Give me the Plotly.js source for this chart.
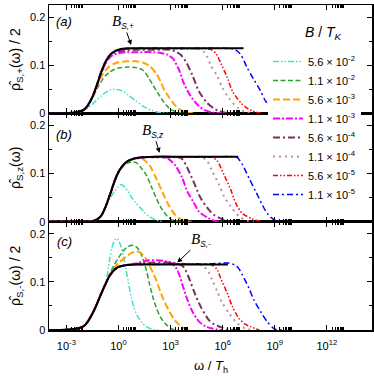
<!DOCTYPE html>
<html>
<head>
<meta charset="utf-8">
<script src="https://cdn.plot.ly/plotly-3.0.1.min.js"></script>
<style>
  html, body { margin: 0; padding: 0; background: #fff; }
  #chart { width: 374px; height: 376px; }
</style>
</head>
<body>
<div id="chart"></div>
<script>
'use strict';

/* global Plotly */

// B / T_K of the coloured curves, in legend order
const FIELDS = [
  '5.6 × 10<sup>-2</sup>', '1.1 × 10<sup>-2</sup>', '5.6 × 10<sup>-3</sup>', '1.1 × 10<sup>-3</sup>',
  '5.6 × 10<sup>-4</sup>', '1.1 × 10<sup>-4</sup>', '5.6 × 10<sup>-5</sup>', '1.1 × 10<sup>-5</sup>'
];
const COLORS = ['#40e0d0', '#2ca02c', '#ffa500', '#ff00ff', '#7b2d62', '#bc8f8f', '#ff0000', '#0000ff'];
const DASHES = [
  '6px,2px,1.5px,2px,1.5px,2px', '5px,2.5px', '7px,3px', '7px,2px,2px,2px',
  '7px,3px,2px,3px', '2px,4px', '5px,2px,1.5px,2px,1.5px,2px', '6px,3px,2px,3px'
];
const WIDTHS = [1.5, 1.5, 2, 2, 2, 2, 1.5, 1.5];

const DECADES = [-3, 0, 3, 6, 9, 12];

// points are [log10(omega / T_h), rho]
// panel (a): rho_{S,+} / 2
const plus_b = [[-4,0],[-3,0.0005],[-2.5,0.002],[-2,0.007],[-1.75,0.017],[-1.5,0.034],[-1.25,0.058],[-1,0.085],[-0.75,0.107],[-0.5,0.121],[-0.25,0.128],[0,0.132],[0.5,0.135],[1,0.135],[3,0.135],[5,0.135],[7.2,0.135]];
const plus_1 = [[-4,0],[-3,0.0005],[-2.5,0.002],[-2,0.006],[-1.75,0.012],[-1.5,0.019],[-1.25,0.028],[-1,0.036],[-0.75,0.043],[-0.5,0.048],[-0.2,0.050],[0.2,0.047],[0.6,0.037],[1,0.026],[1.5,0.013],[2,0.005],[2.5,0.001],[3,0]];
const plus_2 = [[-4,0],[-3,0.0005],[-2.5,0.002],[-2,0.007],[-1.75,0.016],[-1.5,0.031],[-1.25,0.050],[-1,0.066],[-0.75,0.078],[-0.5,0.086],[-0.25,0.091],[0,0.094],[0.5,0.096],[1,0.095],[1.4,0.090],[1.75,0.073],[2,0.058],[2.25,0.043],[2.5,0.029],[2.75,0.017],[3,0.008],[3.5,0.002],[4,0]];
const plus_3 = [[-4,0],[-3,0.0005],[-2.5,0.002],[-2,0.007],[-1.75,0.017],[-1.5,0.033],[-1.25,0.054],[-1,0.075],[-0.75,0.089],[-0.5,0.098],[-0.25,0.103],[0,0.106],[0.5,0.108],[1,0.108],[1.5,0.104],[1.8,0.098],[2.17,0.083],[2.4,0.068],[2.65,0.048],[2.9,0.034],[3.2,0.019],[3.5,0.009],[3.9,0.002],[4.3,0]];
const plus_4 = [[-4,0],[-3,0.0005],[-2.5,0.002],[-2,0.007],[-1.75,0.017],[-1.5,0.034],[-1.25,0.057],[-1,0.083],[-0.75,0.103],[-0.5,0.116],[-0.25,0.122],[0,0.125],[0.5,0.127],[1,0.127],[2,0.127],[2.5,0.125],[2.8,0.122],[3.13,0.114],[3.48,0.091],[3.77,0.062],[4.15,0.036],[4.63,0.015],[5,0.006],[5.4,0.002],[6,0]];
const plus_5 = [[-4,0],[-3,0.0005],[-2.5,0.002],[-2,0.007],[-1.75,0.017],[-1.5,0.034],[-1.25,0.058],[-1,0.085],[-0.75,0.106],[-0.5,0.119],[-0.25,0.126],[0,0.129],[0.5,0.131],[1,0.132],[2,0.132],[3,0.132],[3.29,0.128],[3.6,0.121],[3.87,0.108],[4.25,0.080],[4.63,0.046],[5.1,0.022],[5.5,0.010],[5.8,0.005],[6.1,0.002],[6.6,0]];
const plus_6 = [[-4,0],[-2.5,0.002],[-2,0.007],[-1.5,0.034],[-1,0.085],[-0.5,0.121],[0,0.132],[0.5,0.134],[1,0.134],[2,0.134],[3,0.134],[4,0.134],[4.7,0.133],[4.92,0.128],[5.1,0.118],[5.3,0.101],[5.69,0.077],[5.98,0.053],[6.36,0.032],[6.84,0.012],[7.3,0.003],[7.8,0]];
const plus_7 = [[-4,0],[-2.5,0.002],[-2,0.007],[-1.5,0.034],[-1,0.085],[-0.5,0.121],[0,0.132],[0.5,0.134],[1,0.134],[2,0.134],[3,0.134],[4,0.134],[5,0.134],[5.3,0.133],[5.6,0.125],[5.88,0.105],[6.27,0.074],[6.56,0.046],[7.04,0.022],[7.4,0.011],[7.7,0.005],[8.2,0]];
const plus_8 = [[-4,0],[-2.5,0.002],[-2,0.007],[-1.5,0.034],[-1,0.085],[-0.5,0.121],[0,0.132],[0.5,0.134],[1,0.135],[2,0.135],[3,0.135],[4,0.135],[5,0.135],[6,0.135],[6.5,0.134],[6.75,0.132],[7.04,0.122],[7.42,0.094],[7.8,0.070],[8.19,0.046],[8.48,0.025],[8.87,0.012],[9.3,0.003],[9.7,0]];

// panel (b): rho_{S,z}
const zz_b = [[-4,0],[-2,0],[-1.5,0.001],[-1.25,0.004],[-1,0.012],[-0.75,0.030],[-0.5,0.055],[-0.25,0.082],[0,0.103],[0.25,0.117],[0.5,0.125],[0.75,0.129],[1,0.132],[1.5,0.134],[2,0.135],[4,0.135],[6.9,0.135]];
const zz_1 = [[-4,0],[-2,0],[-1.5,0.001],[-1.25,0.004],[-1,0.012],[-0.75,0.029],[-0.5,0.047],[-0.25,0.062],[0,0.073],[0.15,0.077],[0.4,0.070],[0.73,0.052],[1,0.039],[1.21,0.031],[1.5,0.019],[1.79,0.010],[2.17,0.003],[2.6,0]];
const zz_2 = [[-4,0],[-2,0],[-1.5,0.001],[-1.25,0.004],[-1,0.012],[-0.75,0.030],[-0.5,0.055],[-0.25,0.081],[0,0.101],[0.25,0.114],[0.5,0.121],[0.75,0.124],[1,0.123],[1.3,0.112],[1.6,0.097],[1.9,0.072],[2.2,0.047],[2.4,0.032],[2.84,0.010],[3.2,0.002],[3.6,0]];
const zz_3 = [[-4,0],[-2,0],[-1.5,0.001],[-1.25,0.004],[-1,0.012],[-0.75,0.030],[-0.5,0.055],[-0.25,0.082],[0,0.103],[0.25,0.117],[0.5,0.125],[0.75,0.129],[1,0.131],[1.4,0.130],[1.79,0.117],[2.17,0.090],[2.56,0.059],[2.94,0.031],[3.2,0.017],[3.5,0.007],[3.87,0.001],[4.2,0]];
const zz_4 = [[-4,0],[-2,0],[-1.5,0.001],[-1,0.012],[-0.5,0.055],[0,0.103],[0.5,0.125],[1,0.132],[1.5,0.134],[2,0.134],[2.6,0.134],[2.9,0.130],[3.29,0.116],[3.67,0.091],[3.96,0.063],[4.35,0.039],[4.63,0.021],[5.2,0.007],[5.6,0.001],[6,0]];
const zz_5 = [[-4,0],[-2,0],[-1.5,0.001],[-1,0.012],[-0.5,0.055],[0,0.103],[0.5,0.125],[1,0.132],[1.5,0.134],[2,0.134],[3,0.134],[3.4,0.134],[3.67,0.130],[3.96,0.112],[4.35,0.081],[4.73,0.049],[5.2,0.025],[5.5,0.014],[5.88,0.007],[6.2,0.002],[6.6,0]];
const zz_6 = [[-4,0],[-2,0],[-1.5,0.001],[-1,0.012],[-0.5,0.055],[0,0.103],[0.5,0.125],[1,0.132],[1.5,0.134],[2,0.134],[3,0.134],[4,0.134],[4.8,0.134],[5.11,0.126],[5.4,0.105],[5.79,0.077],[6.07,0.053],[6.46,0.032],[6.94,0.011],[7.4,0.002],[7.8,0]];
const zz_7 = [[-4,0],[-2,0],[-1.5,0.001],[-1,0.012],[-0.5,0.055],[0,0.103],[0.5,0.125],[1,0.132],[1.5,0.134],[2,0.134],[3,0.134],[4,0.134],[5,0.134],[5.4,0.134],[5.69,0.126],[6.07,0.098],[6.46,0.067],[6.75,0.039],[7.13,0.017],[7.7,0.006],[8.2,0]];
const zz_8 = [[-4,0],[-2,0],[-1.5,0.001],[-1,0.012],[-0.5,0.055],[0,0.103],[0.5,0.125],[1,0.132],[1.5,0.134],[2,0.135],[3,0.135],[4,0.135],[5,0.135],[6,0.135],[6.6,0.135],[6.84,0.133],[7.13,0.119],[7.51,0.091],[7.9,0.063],[8.28,0.035],[8.57,0.017],[8.96,0.004],[9.4,0]];

// panel (c): rho_{S,-} / 2
const minus_b = [[-4,0],[-3,0.0005],[-2.5,0.002],[-2,0.008],[-1.75,0.018],[-1.5,0.034],[-1.25,0.053],[-1,0.075],[-0.75,0.095],[-0.5,0.113],[-0.25,0.125],[0,0.131],[0.5,0.135],[1,0.136],[2,0.136],[4,0.136],[6.3,0.136]];
const minus_1 = [[-4,0],[-3,0.0005],[-2.5,0.002],[-2,0.008],[-1.5,0.034],[-1,0.075],[-0.75,0.095],[-0.5,0.148],[-0.33,0.177],[-0.15,0.190],[0,0.186],[0.16,0.172],[0.3,0.150],[0.44,0.125],[0.6,0.093],[0.73,0.069],[0.9,0.046],[1.11,0.028],[1.35,0.015],[1.6,0.007],[2,0.001],[2.4,0]];
const minus_2 = [[-4,0],[-3,0.0005],[-2.5,0.002],[-2,0.008],[-1.5,0.034],[-1,0.075],[-0.75,0.095],[-0.5,0.117],[-0.25,0.135],[0,0.150],[0.25,0.163],[0.5,0.172],[0.8,0.176],[1.05,0.172],[1.3,0.158],[1.6,0.125],[1.79,0.095],[2,0.066],[2.17,0.047],[2.4,0.028],[2.65,0.015],[3.04,0.003],[3.4,0]];
const minus_3 = [[-4,0],[-3,0.0005],[-2.5,0.002],[-2,0.008],[-1.5,0.034],[-1,0.075],[-0.75,0.095],[-0.5,0.114],[-0.25,0.128],[0,0.139],[0.44,0.152],[0.75,0.160],[1,0.163],[1.3,0.160],[1.6,0.147],[1.79,0.133],[2,0.118],[2.17,0.104],[2.56,0.066],[2.94,0.038],[3.23,0.021],[3.5,0.011],[3.87,0.002],[4.2,0]];
const minus_4 = [[-4,0],[-3,0.0005],[-2.5,0.002],[-2,0.008],[-1.5,0.034],[-1,0.075],[-0.5,0.113],[0,0.131],[0.5,0.135],[1,0.138],[1.6,0.144],[2.2,0.145],[2.7,0.143],[3.1,0.138],[3.3,0.130],[3.5,0.115],[3.7,0.092],[3.96,0.064],[4.25,0.039],[4.63,0.018],[5,0.008],[5.4,0.003],[6,0]];
const minus_5 = [[-4,0],[-3,0.0005],[-2,0.008],[-1.5,0.034],[-1,0.075],[-0.5,0.113],[0,0.131],[0.5,0.135],[1,0.137],[2,0.140],[3,0.140],[3.5,0.137],[3.77,0.130],[4.06,0.108],[4.35,0.080],[4.73,0.049],[5.2,0.021],[5.5,0.012],[5.88,0.006],[6.3,0.001],[6.8,0]];
const minus_6 = [[-4,0],[-3,0.0005],[-2,0.008],[-1.5,0.034],[-1,0.075],[-0.5,0.113],[0,0.131],[0.5,0.135],[1,0.136],[3,0.137],[4.5,0.137],[4.8,0.134],[5.11,0.125],[5.4,0.104],[5.69,0.080],[5.98,0.056],[6.36,0.035],[6.84,0.014],[7.3,0.003],[7.8,0]];
const minus_7 = [[-4,0],[-3,0.0005],[-2,0.008],[-1.5,0.034],[-1,0.075],[-0.5,0.113],[0,0.131],[0.5,0.135],[1,0.136],[3,0.137],[5,0.137],[5.4,0.135],[5.69,0.125],[5.88,0.108],[6.27,0.076],[6.56,0.049],[6.94,0.024],[7.3,0.012],[7.6,0.007],[8.1,0]];
const minus_8 = [[-4,0],[-3,0.0005],[-2,0.008],[-1.5,0.034],[-1,0.075],[-0.5,0.113],[0,0.131],[0.5,0.135],[1,0.136],[3,0.137],[5,0.137],[6,0.139],[6.4,0.139],[6.7,0.135],[6.9,0.129],[7.13,0.115],[7.51,0.087],[7.8,0.0625],[8.19,0.038],[8.57,0.017],[8.96,0.003],[9.4,0]];

const PLUS = [plus_1, plus_2, plus_3, plus_4, plus_5, plus_6, plus_7, plus_8];
const ZZ = [zz_1, zz_2, zz_3, zz_4, zz_5, zz_6, zz_7, zz_8];
const MINUS = [minus_1, minus_2, minus_3, minus_4, minus_5, minus_6, minus_7, minus_8];

// plot area in pixels: x 49..372, y 5..330
const PLOT = {l: 49, r: 372, t: 5, b: 330};
const px = x => (x - PLOT.l) / (PLOT.r - PLOT.l);
const py = y => (PLOT.b - y) / (PLOT.b - PLOT.t);

function panelTraces(curves, black, xa, ya, inLegend) {
  const traces = curves.map((pts, i) => ({
    type: 'scatter',
    mode: 'lines',
    x: pts.map(p => Math.pow(10, p[0])),
    y: pts.map(p => p[1]),
    xaxis: xa,
    yaxis: ya,
    name: FIELDS[i],
    showlegend: inLegend,
    line: {color: COLORS[i], dash: DASHES[i], width: WIDTHS[i], shape: 'spline', smoothing: 0.8}
  }));
  traces.push({
    type: 'scatter',
    mode: 'lines',
    x: black.map(p => Math.pow(10, p[0])),
    y: black.map(p => p[1]),
    xaxis: xa,
    yaxis: ya,
    showlegend: false,
    line: {color: '#000', width: 2, shape: 'spline', smoothing: 0.8}
  });
  return traces;
}

const minorVals = [];
DECADES.forEach(d => {
  for (let k = 2; k <= 9; k++) minorVals.push(k * Math.pow(10, d));
});

function xAxis(anchor, labels) {
  return {
    type: 'log',
    range: [-4, 14.6],
    anchor: anchor,
    tickmode: 'array',
    tickvals: DECADES.map(d => Math.pow(10, d)),
    ticktext: DECADES.map(d => '10<sup>' + d + '</sup>'),
    showticklabels: labels,
    tickfont: {size: 11},
    ticklabelstandoff: 5,
    ticks: 'inside',
    ticklen: 5,
    tickwidth: 1,
    tickcolor: '#000',
    minor: {tickmode: 'array', tickvals: minorVals, ticks: 'inside', ticklen: 3, tickwidth: 1, tickcolor: '#000'},
    showline: true,
    linecolor: '#000',
    linewidth: 1.5,
    mirror: 'allticks',
    showgrid: false,
    zeroline: false
  };
}

function yAxis(domain, anchor) {
  return {
    domain: domain,
    anchor: anchor,
    range: [0, 0.225],
    tickmode: 'array',
    tickvals: [0, 0.1, 0.2],
    ticktext: ['0', '0.1', '0.2'],
    tickfont: {size: 11},
    ticks: 'inside',
    ticklen: 5,
    tickwidth: 1,
    tickcolor: '#000',
    minor: {tickmode: 'array', tickvals: [0.05, 0.15], ticks: 'inside', ticklen: 3, tickwidth: 1, tickcolor: '#000'},
    showline: true,
    linecolor: '#000',
    linewidth: 1.5,
    mirror: 'allticks',
    showgrid: false,
    zeroline: false
  };
}

const data = []
  .concat(panelTraces(PLUS, plus_b, 'x3', 'y3', true))
  .concat(panelTraces(ZZ, zz_b, 'x2', 'y2', false))
  .concat(panelTraces(MINUS, minus_b, 'x', 'y', false));

const bLabel = sub => '<span style="font-family:Liberation Serif;font-size:15px"><i>B</i></span><sub><i>' + sub + '</i></sub>';

// centred text at a pixel position of the picture
function paperText(x, y, text, size, angle) {
  return {xref: 'paper', yref: 'paper', x: px(x), y: py(y), xanchor: 'center', yanchor: 'middle',
    text: text, showarrow: false, textangle: angle || 0, font: {size: size}};
}

function arrowText(xa, ya, lx, v, ax, ay, text) {
  return {xref: xa, yref: ya, x: lx, y: v, ax: ax, ay: ay, text: text, showarrow: true,
    arrowhead: 2, arrowsize: 1, arrowwidth: 1, arrowcolor: '#000', font: {size: 12}};
}

const annotations = [
  paperText(64, 22, '<i>(a)</i>', 13),
  paperText(64, 134, '<i>(b)</i>', 13),
  paperText(64, 241, '<i>(c)</i>', 13),
  paperText(323, 33, '<i>B</i> / <i>T</i><sub><i>K</i></sub>', 14),
  paperText(211, 366, 'ω / <i>T</i><sub>h</sub>', 13),
  paperText(16, 60, 'ρ̂<sub>S,+</sub>(ω) / 2', 14, -90),
  paperText(16, 168, 'ρ̂<sub>S,z</sub>(ω)', 14, -90),
  paperText(16, 276, 'ρ̂<sub>S,-</sub>(ω) / 2', 14, -90),
  arrowText('x3', 'y3', 0.73, 0.142, -8, -23, bLabel('S,+')),
  arrowText('x2', 'y2', 2.37, 0.143, -7, -22, bLabel('S,z')),
  arrowText('x', 'y', 3.39, 0.140, 24, -23, bLabel('S,-'))
];

const layout = {
  width: 374,
  height: 376,
  margin: {l: PLOT.l, r: 374 - PLOT.r, t: PLOT.t, b: 376 - PLOT.b, pad: 0},
  paper_bgcolor: '#fff',
  plot_bgcolor: '#fff',
  font: {family: 'Liberation Sans, Arial, sans-serif', size: 11, color: '#000'},
  hovermode: false,
  showlegend: true,
  legend: {
    x: px(268), y: py(47), xanchor: 'left', yanchor: 'top',
    bgcolor: '#fff', borderwidth: 0, itemwidth: 30, tracegroupgap: 0,
    font: {size: 11}
  },
  xaxis: xAxis('y', true),
  xaxis2: xAxis('y2', false),
  xaxis3: xAxis('y3', false),
  yaxis: yAxis([0, 1 / 3], 'x'),
  yaxis2: yAxis([1 / 3, 2 / 3], 'x2'),
  yaxis3: yAxis([2 / 3, 1], 'x3'),
  annotations: annotations
};

Plotly.newPlot('chart', data, layout, {staticPlot: true, displayModeBar: false});
</script>
</body>
</html>
